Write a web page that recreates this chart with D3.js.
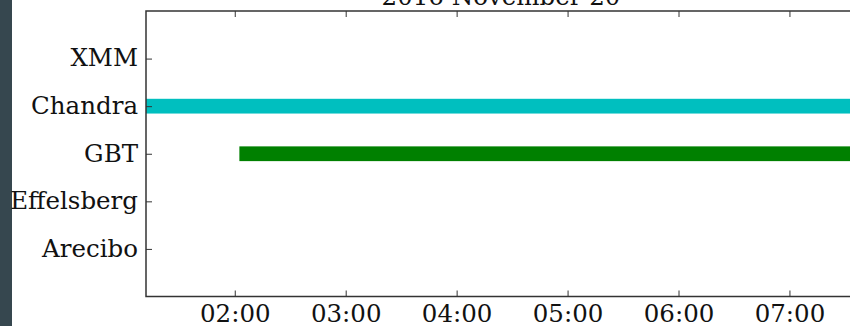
<!DOCTYPE html>
<html>
<head>
<meta charset="utf-8">
<script src="https://cdn.jsdelivr.net/npm/d3@7"></script>
<style>
  html, body { margin: 0; padding: 0; background: #fff; }
  svg { display: block; }
  text { font-family: "DejaVu Serif", serif; fill: #111; }
</style>
</head>
<body>
<svg id="chart" width="850" height="326"></svg>
<script>
// Observing schedule, 2016 November 20 (UTC)
const titleText = "2016 November 20";
const facilities = ["Arecibo", "Effelsberg", "GBT", "Chandra", "XMM"];
const barFacility = ["Chandra", "GBT"];
const barStart = ["2016-11-20T01:12:00Z", "2016-11-20T02:02:30Z"];
const barEnd = ["2016-11-20T07:36:00Z", "2016-11-20T07:36:00Z"];
const barColor = ["#00bfbf", "#008000"];
const timeDomain = ["2016-11-20T01:12:00Z", "2016-11-20T07:36:00Z"];
const tickHours = ["02:00", "03:00", "04:00", "05:00", "06:00", "07:00"];

const bars = barFacility.map((f, i) => ({
  facility: f,
  start: new Date(barStart[i]),
  end: new Date(barEnd[i]),
  color: barColor[i]
}));

const svg = d3.select("#chart");
const W = 850, H = 326;
const fontSize = 24.5;

// dark strip along the left edge of the frame
svg.append("rect").attr("x", 0).attr("y", 0).attr("width", 12).attr("height", H).attr("fill", "#36474f");

const pLeft = 146, pRight = 856, pTop = 11, pBottom = 296.5;

const x = d3.scaleUtc().domain(timeDomain.map(d => new Date(d))).range([pLeft, pRight]);
const y = d3.scaleLinear().domain([0, facilities.length + 1]).range([pBottom, pTop]);
const rowPos = f => facilities.indexOf(f) + 1;
const barHalf = 0.155;

svg.append("clipPath").attr("id", "plotclip")
  .append("rect").attr("x", pLeft).attr("y", pTop).attr("width", pRight - pLeft).attr("height", pBottom - pTop);

svg.append("g").attr("clip-path", "url(#plotclip)")
  .selectAll("rect").data(bars).join("rect")
  .attr("x", d => x(d.start))
  .attr("width", d => x(d.end) - x(d.start))
  .attr("y", d => y(rowPos(d.facility) + barHalf))
  .attr("height", d => y(rowPos(d.facility) - barHalf) - y(rowPos(d.facility) + barHalf))
  .attr("fill", d => d.color);

const tickDates = tickHours.map(h => new Date("2016-11-20T" + h + ":00Z"));
const fmt = d3.utcFormat("%H:%M");
const tickLen = 6;
const axisColor = "#333";

// bottom axis: inward ticks with labels
const xb = svg.append("g").attr("transform", `translate(0,${pBottom})`)
  .call(d3.axisBottom(x).tickValues(tickDates).tickFormat(fmt).tickSizeInner(-tickLen).tickSizeOuter(0).tickPadding(9));
xb.select(".domain").remove();
xb.selectAll(".tick line").attr("stroke", axisColor).attr("stroke-width", 1);
xb.selectAll(".tick text").attr("font-size", fontSize).attr("font-family", "DejaVu Serif").attr("fill", "#111").attr("dy", "0.69em");

// top axis: ticks only
const xt = svg.append("g").attr("transform", `translate(0,${pTop})`)
  .call(d3.axisTop(x).tickValues(tickDates).tickFormat("").tickSizeInner(-tickLen).tickSizeOuter(0));
xt.select(".domain").remove();
xt.selectAll(".tick line").attr("stroke", axisColor).attr("stroke-width", 1);

// left axis with facility names
const yl = svg.append("g").attr("transform", `translate(${pLeft},0)`)
  .call(d3.axisLeft(y).tickValues(facilities.map((f, i) => i + 1)).tickFormat(v => facilities[v - 1])
    .tickSizeInner(-tickLen).tickSizeOuter(0).tickPadding(8));
yl.select(".domain").remove();
yl.selectAll(".tick line").attr("stroke", axisColor).attr("stroke-width", 1);
yl.selectAll(".tick text").attr("font-size", fontSize).attr("font-family", "DejaVu Serif").attr("fill", "#111").attr("dy", "0.3em");

// right axis: ticks only
const yr = svg.append("g").attr("transform", `translate(${pRight},0)`)
  .call(d3.axisRight(y).tickValues(facilities.map((f, i) => i + 1)).tickFormat("").tickSizeInner(-tickLen).tickSizeOuter(0));
yr.select(".domain").remove();
yr.selectAll(".tick line").attr("stroke", axisColor).attr("stroke-width", 1);

// frame
svg.append("rect").attr("x", pLeft).attr("y", pTop).attr("width", pRight - pLeft).attr("height", pBottom - pTop)
  .attr("fill", "none").attr("stroke", axisColor).attr("stroke-width", 1.5);

// title, partly above the top edge
svg.append("text").attr("x", (pLeft + pRight) / 2).attr("y", 5).attr("text-anchor", "middle")
  .attr("font-size", fontSize).text(titleText);
</script>
</body>
</html>
